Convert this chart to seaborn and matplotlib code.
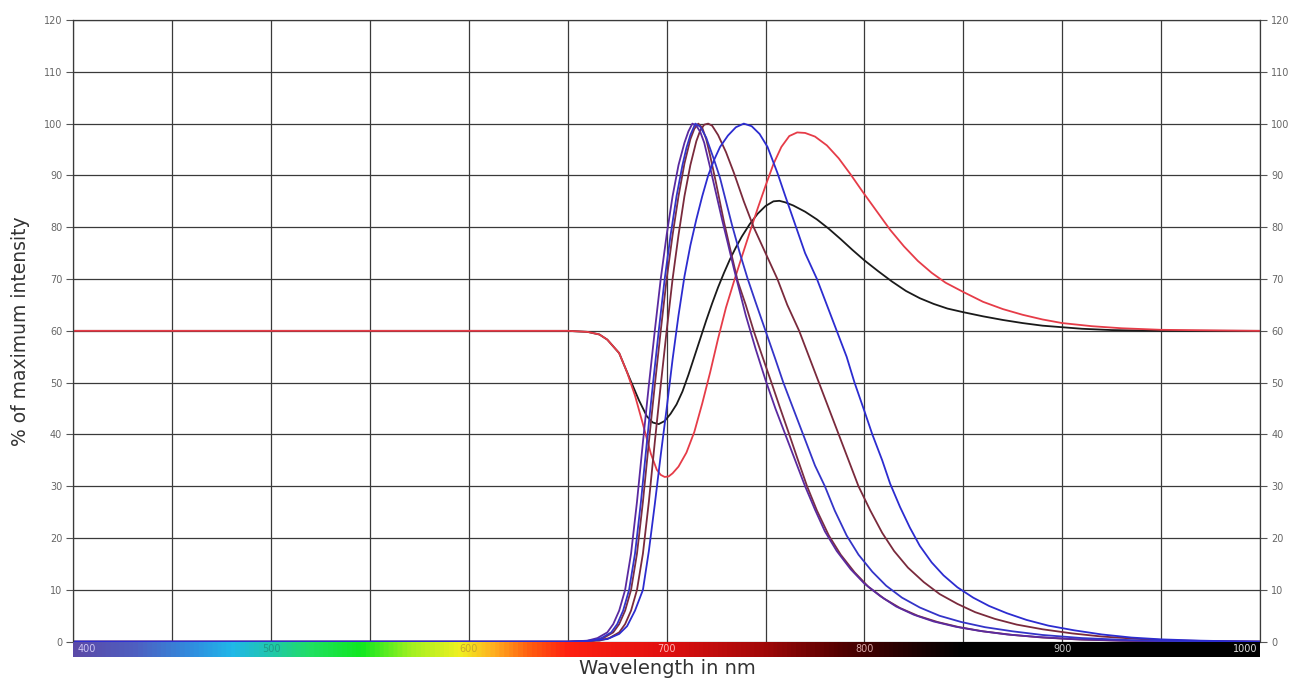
import numpy as np
import pandas as pd
import matplotlib
matplotlib.use("Agg")
import matplotlib.pyplot as plt
import seaborn as sns
from matplotlib.colors import LinearSegmentedColormap

# ---------------- data ----------------
p_wl = [400, 650, 660, 665, 670, 673, 676, 679, 682, 685, 688, 691, 694, 697, 700, 703, 706, 709, 711,
        713, 715, 717, 719, 722, 725, 728, 731, 734, 737, 740, 745, 750, 755, 760, 765, 770, 775, 780,
        786, 793, 800, 808, 816, 825, 835, 846, 858, 872, 888, 905, 930, 960, 1000]
p_val = [0, 0, 0.2, 0.7, 1.8, 3.4, 6, 10, 17, 27, 38.5, 49.5, 60, 70, 78.5, 86, 92, 96.3, 98.5,
         100, 99.6, 98.4, 96.3, 91.5, 86.5, 81.5, 76.8, 72, 67.5, 63, 56.5, 50.5, 45, 40, 35, 30, 25.5, 21.3,
         17.5, 14, 11.2, 8.8, 6.8, 5.2, 3.9, 2.9, 2.1, 1.4, 0.9, 0.5, 0.2, 0.05, 0]

b_wl = [400, 650, 662, 667, 672, 675, 678, 681, 684, 687, 690, 693, 696, 699, 702, 705, 708, 710, 712,
        714.5, 717, 720, 724, 727, 730, 733, 737, 741, 745, 750, 755, 759, 764, 769, 775, 780, 785, 791,
        797, 804, 811, 819, 828, 838, 849, 861, 875, 890, 910, 935, 960, 1000]
b_val = [0, 0, 0.2, 0.7, 1.8, 3.4, 6, 10, 17, 27, 38.5, 49.5, 60, 70, 78.5, 86, 92, 95.3, 97.8,
         100, 99.4, 97.3, 93, 89.5, 85, 80.5, 75, 70, 65.5, 60, 54.5, 50, 45, 40, 34, 30, 25.3, 20.5,
         16.8, 13.5, 10.8, 8.5, 6.6, 5, 3.8, 2.8, 2, 1.3, 0.7, 0.3, 0.1, 0]

a_wl = [400, 650, 663, 668, 673, 676, 679, 682, 685, 688, 691, 694, 697, 700, 703, 706, 709, 712, 714,
        716, 718, 720, 722, 725, 729, 732, 736, 740, 744, 748, 753, 757, 762, 766, 771, 776, 782, 788,
        795, 802, 810, 818, 827, 837, 848, 860, 875, 890, 910, 935, 960, 1000]
a_val = [0, 0, 0.2, 0.7, 1.8, 3.4, 6, 10, 17, 27, 38.5, 49.5, 60, 70, 78.5, 86, 92.3, 97, 99,
         100, 99.2, 97, 93.8, 88.5, 81, 76, 69.5, 65, 60, 55.5, 50, 45.5, 40, 35.5, 30, 25.3, 20.5, 16.8,
         13.4, 10.6, 8.3, 6.5, 5, 3.8, 2.8, 2, 1.3, 0.8, 0.4, 0.15, 0, 0]

c_wl = [400, 650, 666, 671, 676, 679, 682, 685, 688, 691, 694, 697, 700, 703, 706, 709, 712, 715, 717,
        719, 721, 723, 726, 730, 734, 739, 744, 750, 756, 761, 767, 772, 777, 782, 787, 792, 797, 803,
        809, 815, 822, 830, 838, 847, 856, 866, 877, 890, 905, 920, 940, 960, 1000]
c_val = [0, 0, 0.2, 0.7, 1.8, 3.4, 6, 10, 17, 27, 38.5, 49.5, 60, 70, 78.5, 86, 92, 96.6, 98.7,
         99.8, 100, 99.6, 97.8, 94.5, 90.5, 85, 80, 75, 70, 65, 60, 55, 50, 45, 40, 35, 30, 25.3,
         21, 17.5, 14.3, 11.5, 9.2, 7.3, 5.7, 4.4, 3.3, 2.4, 1.6, 1, 0.5, 0.2, 0]

d_wl = [400, 655, 670, 676, 680, 684, 688, 691, 694, 697, 700, 703, 706, 709, 712, 715, 718, 721, 724,
        727, 731, 735, 739, 743, 747, 751, 756, 760, 765, 770, 776, 781, 786, 791, 795, 800, 804, 809,
        813, 818, 823, 828, 834, 840, 847, 855, 863, 872, 882, 893, 906, 920, 935, 950, 970, 990, 1000]
d_val = [0, 0, 0.5, 1.5, 3, 6, 10, 17.5, 26.5, 36, 45, 54.5, 63, 70.5, 76.5, 81.5, 86, 90, 93,
         95.5, 97.7, 99.3, 100, 99.5, 98, 95.5, 90.5, 86, 80.5, 75, 70, 65, 60, 55, 50, 44.5, 40, 35,
         30.5, 26, 22, 18.5, 15.3, 12.8, 10.5, 8.5, 6.9, 5.5, 4.2, 3.1, 2.2, 1.4, 0.8, 0.45, 0.2, 0.05, 0]

k_wl = [400, 650, 660, 666, 670, 676, 681, 686, 690, 693, 696, 699, 702, 705, 708, 711, 714, 717, 720,
        723, 726, 729, 732, 735, 738, 742, 746, 750, 754, 757, 760, 764, 770, 776, 782, 788, 794, 800,
        807, 814, 821, 828, 835, 842, 850, 860, 870, 880, 890, 900, 910, 925, 950, 1000]
k_val = [60, 60, 59.8, 59.3, 58.3, 55.7, 51.1, 46.6, 43.5, 42.3, 42, 42.6, 44, 45.8, 48.3, 51.5, 55, 58.5, 62,
         65.3, 68.4, 71.2, 73.8, 76.1, 78.2, 80.6, 82.6, 84.1, 85, 85.1, 84.8, 84.2, 83, 81.5, 79.7, 77.7, 75.6, 73.6,
         71.5, 69.5, 67.7, 66.3, 65.2, 64.3, 63.6, 62.8, 62.1, 61.5, 61, 60.7, 60.4, 60.15, 60, 60]

r_wl = [400, 650, 660, 666, 670, 676, 680, 684, 688, 692, 695, 697, 699, 701, 703, 706, 710, 714, 718,
        722, 726, 730, 734, 738, 742, 746, 750, 754, 758, 762, 766, 770, 775, 781, 787, 793, 799, 806,
        813, 820, 827, 834, 841, 850, 860, 870, 880, 890, 900, 915, 930, 950, 1000]
r_val = [60, 60, 59.8, 59.3, 58.3, 55.7, 52, 47.5, 42, 36.3, 33.2, 32.2, 31.8, 31.9, 32.5, 33.8, 36.5, 40.5, 46,
         52, 58.5, 64.5, 69.5, 74.3, 79, 83.6, 88, 92.2, 95.5, 97.6, 98.3, 98.2, 97.5, 95.8, 93.3, 90.2, 86.9, 83.2,
         79.5, 76.3, 73.5, 71.2, 69.3, 67.5, 65.6, 64.2, 63.1, 62.2, 61.5, 60.9, 60.5, 60.2, 60]

y_ticks = list(range(0, 121, 10))
x_grid = list(range(400, 1001, 50))
spectrum_labels = [400, 500, 600, 700, 800, 900, 1000]

# ---------------- styling ----------------
sns.set_theme(style="white")
plt.rcParams['font.family'] = ['DejaVu Sans']

colors = {
    'black': '#1a1a1a',
    'red': '#e63c48',
    'A': '#7a2e42',
    'C': '#7a2a3c',
    'P': '#5a2aa0',
    'B': '#3434c8',
    'D': '#2c2cd0',
}
order = ['black', 'red', 'A', 'C', 'P', 'B', 'D']
series = {'P': (p_wl, p_val), 'B': (b_wl, b_val), 'A': (a_wl, a_val), 'C': (c_wl, c_val),
          'D': (d_wl, d_val), 'black': (k_wl, k_val), 'red': (r_wl, r_val)}
df = pd.concat([pd.DataFrame({'wl': w, 'val': v, 'curve': n}) for n, (w, v) in series.items()],
               ignore_index=True)

W, H = 1290, 679
fig = plt.figure(figsize=(W / 100, H / 100), dpi=100)
L, R, T, Bm = 73.3, 1260, 20, 641.7
ax = fig.add_axes([L / W, 1 - Bm / H, (R - L) / W, (Bm - T) / H])

sns.lineplot(data=df, x='wl', y='val', hue='curve', hue_order=order, palette=colors,
             estimator=None, sort=False, legend=False, ax=ax, linewidth=1.3)

ax.set_xlim(400, 1000)
ax.set_ylim(0, 120)
ax.set_xticks(x_grid)
ax.set_yticks(y_ticks)
ax.grid(True, color='#3a3a3a', linewidth=0.9)
ax.set_axisbelow(True)
ax.tick_params(axis='x', bottom=False, labelbottom=False)
ax.tick_params(axis='y', left=True, right=True, labelleft=True, labelright=True,
               length=5, width=0.8, color='#555555', labelsize=7, labelcolor='#666666', pad=3)
for s in ['left', 'right', 'top']:
    ax.spines[s].set_color('#3a3a3a')
    ax.spines[s].set_linewidth(0.9)
ax.spines['bottom'].set_visible(False)
ax.set_xlabel('')
ax.set_ylabel('% of maximum intensity', fontsize=13.5, color='#333333', labelpad=10)

# spectrum bar
stops = [(400, '#5b4aa8'), (430, '#4f5fc0'), (460, '#2f8fe0'), (480, '#20b8e8'), (500, '#20c8a8'),
         (520, '#20e060'), (545, '#10e820'), (570, '#a0f020'), (595, '#f0f020'), (612, '#ffb020'),
         (630, '#ff6010'), (650, '#ff2010'), (700, '#e01010'), (750, '#a00808'), (790, '#500000'),
         (830, '#180000'), (850, '#000000'), (1000, '#000000')]
cmap = LinearSegmentedColormap.from_list('spec', [((w - 400) / 600, c) for w, c in stops])
cax = fig.add_axes([L / W, 1 - 657 / H, (R - L) / W, 15 / H])
grad = np.linspace(400, 1000, 1200)[None, :]
cax.imshow(grad, extent=[400, 1000, 0, 1], aspect='auto', cmap=cmap, vmin=400, vmax=1000)
cax.set_xlim(400, 1000)
cax.set_ylim(0, 1)
cax.axis('off')
lab_colors = {400: '#cfc8f5', 500: '#1f9a88', 600: '#c9a828', 700: '#ffb4b4',
              800: '#d8a8a8', 900: '#c8c8c8', 1000: '#dddddd'}
for v in spectrum_labels:
    ha = 'center'
    xpos = v
    if v == 400:
        ha, xpos = 'left', 402
    elif v == 1000:
        ha, xpos = 'right', 998.5
    cax.text(xpos, 0.5, str(v), ha=ha, va='center', fontsize=7, color=lab_colors[v])

fig.text(667 / W, 1 - 668 / H, 'Wavelength in nm', ha='center', va='center',
         fontsize=14, color='#333333')

fig.savefig('out.png', dpi=100)
